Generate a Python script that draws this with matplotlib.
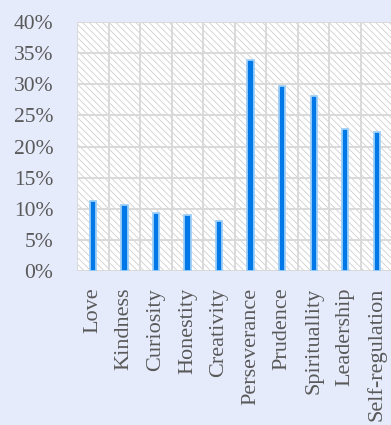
import matplotlib
matplotlib.use("Agg")
import matplotlib.pyplot as plt
from matplotlib.patches import Rectangle
from matplotlib.ticker import MultipleLocator, PercentFormatter

categories = ["Love", "Kindness", "Curiosity", "Honestity", "Creativity",
              "Perseverance", "Prudence", "Spirituallity", "Leadership", "Self-regulation"]
values = [11.2, 10.7, 9.4, 9.0, 8.0, 33.9, 29.7, 28.1, 22.9, 22.4]

BG = "#E6EBFB"
BAR = "#0078E7"
BAR_EDGE = "#9DCFF7"
GRID = "#D9D9D9"
TXT = "#595959"

plt.rcParams["font.family"] = ["Liberation Serif", "DejaVu Serif"]
plt.rcParams["hatch.linewidth"] = 0.6
plt.rcParams["hatch.color"] = "#D0D0D0"

fig = plt.figure(figsize=(3.91, 4.25), dpi=100, facecolor=BG)
ax = fig.add_axes([0.197, 0.362, 0.807, 0.586])
ax.set_facecolor("white")

# hatched background of the plot area
ax.add_patch(Rectangle((0, 0), 1, 1, transform=ax.transAxes, facecolor="white",
                       edgecolor="#D0D0D0", hatch="\\\\\\\\\\", lw=0, zorder=0))

x = range(len(categories))
ax.bar(x, values, width=0.2, color=BAR, edgecolor=BAR_EDGE, linewidth=1.3, zorder=3)

ax.set_xlim(-0.5, len(categories) - 0.5)
ax.set_ylim(0, 40)
ax.yaxis.set_major_locator(MultipleLocator(5))
ax.yaxis.set_major_formatter(PercentFormatter(decimals=0))

# gridlines at category boundaries and every 5%
for b in range(len(categories) + 1):
    ax.axvline(b - 0.5, color=GRID, lw=1.4, zorder=1)
for yv in range(0, 45, 5):
    ax.axhline(yv, color=GRID, lw=1.4, zorder=1)

ax.set_xticks(list(x))
ax.set_xticklabels(categories, rotation=90, fontsize=16, color=TXT)
ax.tick_params(axis="y", labelsize=15.5, labelcolor=TXT, length=0, pad=17)
ax.tick_params(axis="x", length=0, pad=12)
for s in ax.spines.values():
    s.set_visible(False)

fig.savefig("out.png", dpi=100, facecolor=BG)
